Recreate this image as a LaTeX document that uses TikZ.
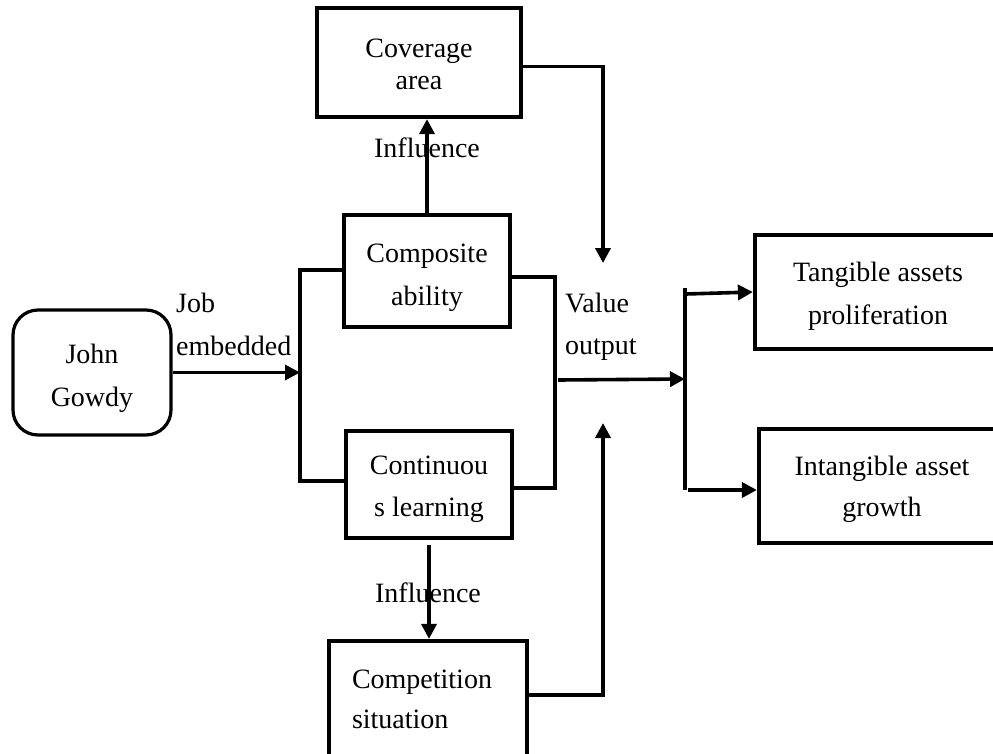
\documentclass[tikz,border=0pt]{standalone}
\usepackage{fontspec}
\setmainfont{Liberation Serif}
\usetikzlibrary{arrows.meta}
\begin{document}
\begin{tikzpicture}[x=1pt,y=-1pt,
  box/.style={draw, line width=4.2pt, align=center, inner sep=0pt, font=\fontsize{28}{43}\selectfont},
  conn/.style={line width=3.6pt},
  arr/.style={conn, -{Triangle[length=15pt,width=15pt]}},
  lbl/.style={inner sep=0pt, align=left, font=\fontsize{28}{43}\selectfont}]
\useasboundingbox (0,0) rectangle (993,753);
\clip (0,0) rectangle (993,753);
% boxes
\node[box, line width=3.2pt, rounded corners=25pt, minimum width=158pt, minimum height=125pt] (john) at (92,372.5) {\rule{0pt}{31pt}John\\Gowdy};
\node[box, minimum width=204pt, minimum height=109pt] (cov) at (419,62.5) {\rule{0pt}{22pt}Coverage\\[-11pt]area};
\node[box, minimum width=166pt, minimum height=112pt] (comp) at (427,271) {\rule{0pt}{33pt}Composite\\ability};
\node[box, minimum width=166pt, minimum height=107pt] (cont) at (429,484.5) {\rule{0pt}{28pt}Continuou\\[-1pt]s learning};
\node[box, align=left, minimum width=198pt, minimum height=116pt] (compet) at (428,699) {Competition\hspace*{12pt}\\[-3pt]situation};
\node[box, minimum width=246pt, minimum height=114pt] (tang) at (878,292) {\rule{0pt}{28pt}Tangible assets\\proliferation};
\node[box, minimum width=246pt, minimum height=114pt] (intang) at (882,486) {\rule{0pt}{27pt}Intangible asset\\[-2pt]growth};
% labels
\node[lbl, anchor=base west] (job) at (176,355) {Job\\embedded};
\node[lbl, anchor=base] (inf1) at (427,157) {Influence};
\node[lbl, anchor=base] (inf2) at (428,602) {Influence};
\node[lbl, anchor=base west] (val) at (565,354) {Value\\[-1pt]output};
% coordinates
\coordinate (lbt) at (300,270);
\coordinate (lbb) at (300,481);
\coordinate (rbt) at (555,277);
\coordinate (rbb) at (555,488);
\coordinate (vo) at (558,380);
\coordinate (sp) at (685,379);
\coordinate (spt) at (685,288);
\coordinate (spb) at (685,490);
\coordinate (ta) at (686,294);
\coordinate (ib) at (688,490);
\coordinate (vt) at (603,263);
\coordinate (vb) at (603,423);
% connectors
\draw[arr] (john.east) -- (john.east -| lbt);
\draw[conn] (comp.west |- lbt) -- (lbt) -- (lbb) -- (cont.west |- lbb);
\draw[conn] (comp.east |- rbt) -- (rbt) -- (rbb) -- (cont.east |- rbb);
\draw[arr] (vo) -- (sp);
\draw[conn] (spt) -- (spb);
\draw[arr] (ta) -- (tang.west);
\draw[arr] (ib) -- (ib -| intang.west);
\draw[arr] ([yshift=-4pt]cov.east) -| (vt);
\draw[arr] ([yshift=4pt]compet.east) -| (vb);
\draw[arr] (comp.north) -- (comp.north |- cov.south);
\draw[arr] ([yshift=-5pt]cont.south) -- (cont.south |- compet.north);
\end{tikzpicture}
\end{document}
